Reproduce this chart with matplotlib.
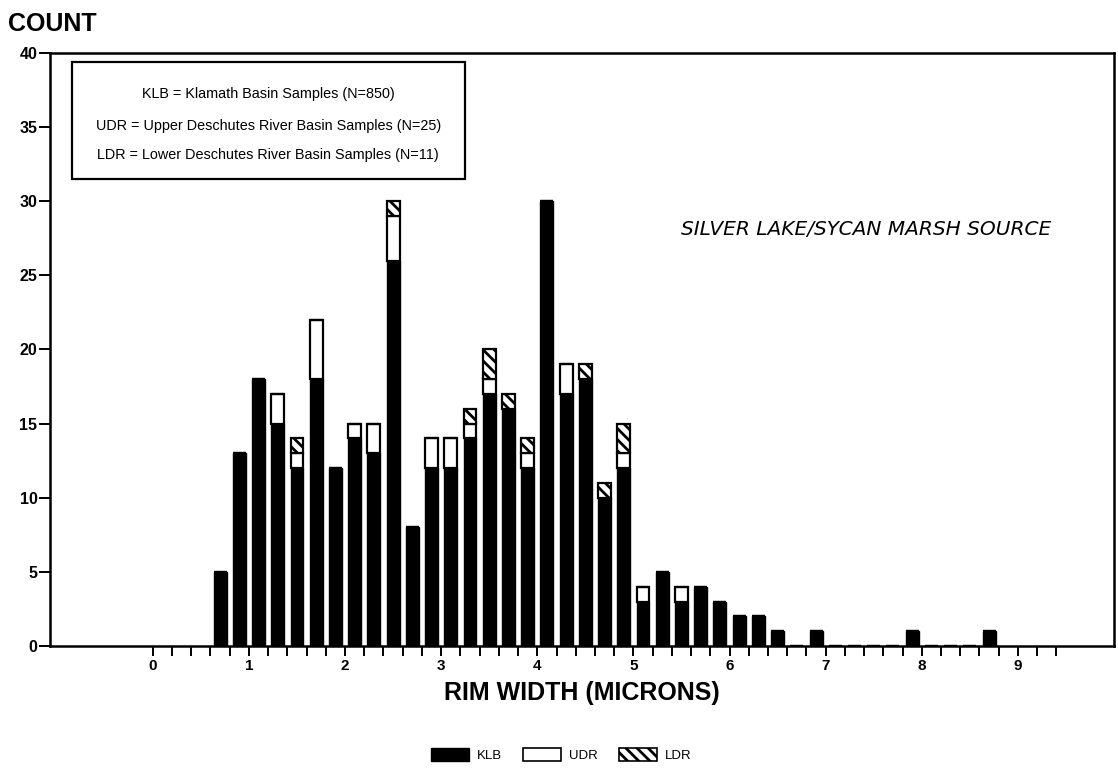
import matplotlib
matplotlib.use('Agg')
import matplotlib.pyplot as plt
from matplotlib.patches import Patch, Rectangle
import numpy as np

# ---------------- data ----------------
rim_width = [0.7, 0.9, 1.1, 1.3, 1.5, 1.7, 1.9, 2.1, 2.3, 2.5,
             2.7, 2.9, 3.1, 3.3, 3.5, 3.7, 3.9, 4.1, 4.3, 4.5,
             4.7, 4.9, 5.1, 5.3, 5.5, 5.7, 5.9, 6.1, 6.3, 6.5,
             6.7, 6.9, 7.1, 7.3, 7.5, 7.7, 7.9, 8.1, 8.3, 8.5, 8.7]
klb = [5, 13, 18, 15, 12, 18, 12, 14, 13, 26,
       8, 12, 12, 14, 17, 16, 12, 30, 17, 18,
       10, 12, 3, 5, 3, 4, 3, 2, 2, 1,
       0, 1, 0, 0, 0, 0, 1, 0, 0, 0, 1]
udr = [0, 0, 0, 2, 1, 4, 0, 1, 2, 3,
       0, 2, 2, 1, 1, 0, 1, 0, 2, 0,
       0, 1, 1, 0, 1, 0, 0, 0, 0, 0,
       0, 0, 0, 0, 0, 0, 0, 0, 0, 0, 0]
ldr = [0, 0, 0, 0, 1, 0, 0, 0, 0, 1,
       0, 0, 0, 1, 2, 1, 1, 0, 0, 1,
       1, 2, 0, 0, 0, 0, 0, 0, 0, 0,
       0, 0, 0, 0, 0, 0, 0, 0, 0, 0, 0]
x_major = [0, 1, 2, 3, 4, 5, 6, 7, 8, 9]
y_ticks = [0, 5, 10, 15, 20, 25, 30, 35, 40]
legend_lines = ["KLB = Klamath Basin Samples (N=850)",
                "UDR = Upper Deschutes River Basin Samples (N=25)",
                "LDR = Lower Deschutes River Basin Samples (N=11)"]
series_names = ["KLB", "UDR", "LDR"]

# ---------------- style ----------------
SANS = ['Liberation Sans', 'DejaVu Sans']
plt.rcParams['hatch.linewidth'] = 2.0

fig = plt.figure(figsize=(11.18, 7.71), dpi=100)
ax = fig.add_axes([0.0447, 0.1621, 0.9517, 0.7692])

x = np.array(rim_width)
k = np.array(klb)
u = np.array(udr)
l = np.array(ldr)
w = 0.135

ax.bar(x, k, width=w, color='black', edgecolor='black', linewidth=1.0, zorder=3)
ax.bar(x, u, bottom=k, width=w, color='white', edgecolor='black', linewidth=1.6, zorder=3)
ax.bar(x, l, bottom=k + u, width=w, color='white', edgecolor='black', linewidth=1.6,
       hatch='\\\\\\', zorder=3)

ax.set_xlim(-1.07, 10.0)
ax.set_ylim(0, 40)

ax.set_xticks(x_major)
ax.set_xticklabels([str(v) for v in x_major], family=SANS, fontsize=11, fontweight='bold')
ax.set_xticks(np.arange(0, 9.5, 0.2), minor=True)
ax.set_yticks(y_ticks)
ax.set_yticklabels([str(v) for v in y_ticks], family=SANS, fontsize=11.5, fontweight='bold')

ax.tick_params(axis='x', which='both', direction='out', length=7, width=1.4, pad=2)
ax.tick_params(axis='y', which='both', direction='out', length=8, width=1.4, pad=1)
for s in ax.spines.values():
    s.set_linewidth(1.8)

ax.set_xlabel("RIM WIDTH (MICRONS)", family=SANS, fontsize=18, fontweight='bold', labelpad=6)
fig.text(0.007, 0.985, "COUNT", family=SANS, fontsize=18, fontweight='bold',
         ha='left', va='top')

# boxed key in upper left
ax.add_patch(Rectangle((-0.84, 31.5), 4.09, 7.9, fill=False, edgecolor='black',
                       linewidth=1.6, zorder=4))
for yy, line in zip([37.2, 35.1, 33.1], legend_lines):
    ax.text(1.2, yy, line, family=SANS, fontsize=10.4, ha='center', va='center', zorder=5)

ax.text(7.42, 28.1, "SILVER LAKE/SYCAN MARSH SOURCE", family=['DejaVu Sans'],
        style='italic', fontsize=14.5, ha='center', va='center')

handles = [Patch(facecolor='black', edgecolor='black'),
           Patch(facecolor='white', edgecolor='black', linewidth=1.2),
           Patch(facecolor='white', edgecolor='black', linewidth=1.2, hatch='\\\\\\')]
fig.legend(handles, series_names, loc='center', bbox_to_anchor=(0.502, 0.021), ncol=3,
           frameon=False, prop={'family': SANS, 'size': 9.5},
           handlelength=2.9, handleheight=1.1, handletextpad=0.6, columnspacing=1.6)

fig.savefig('out.png', dpi=100)
